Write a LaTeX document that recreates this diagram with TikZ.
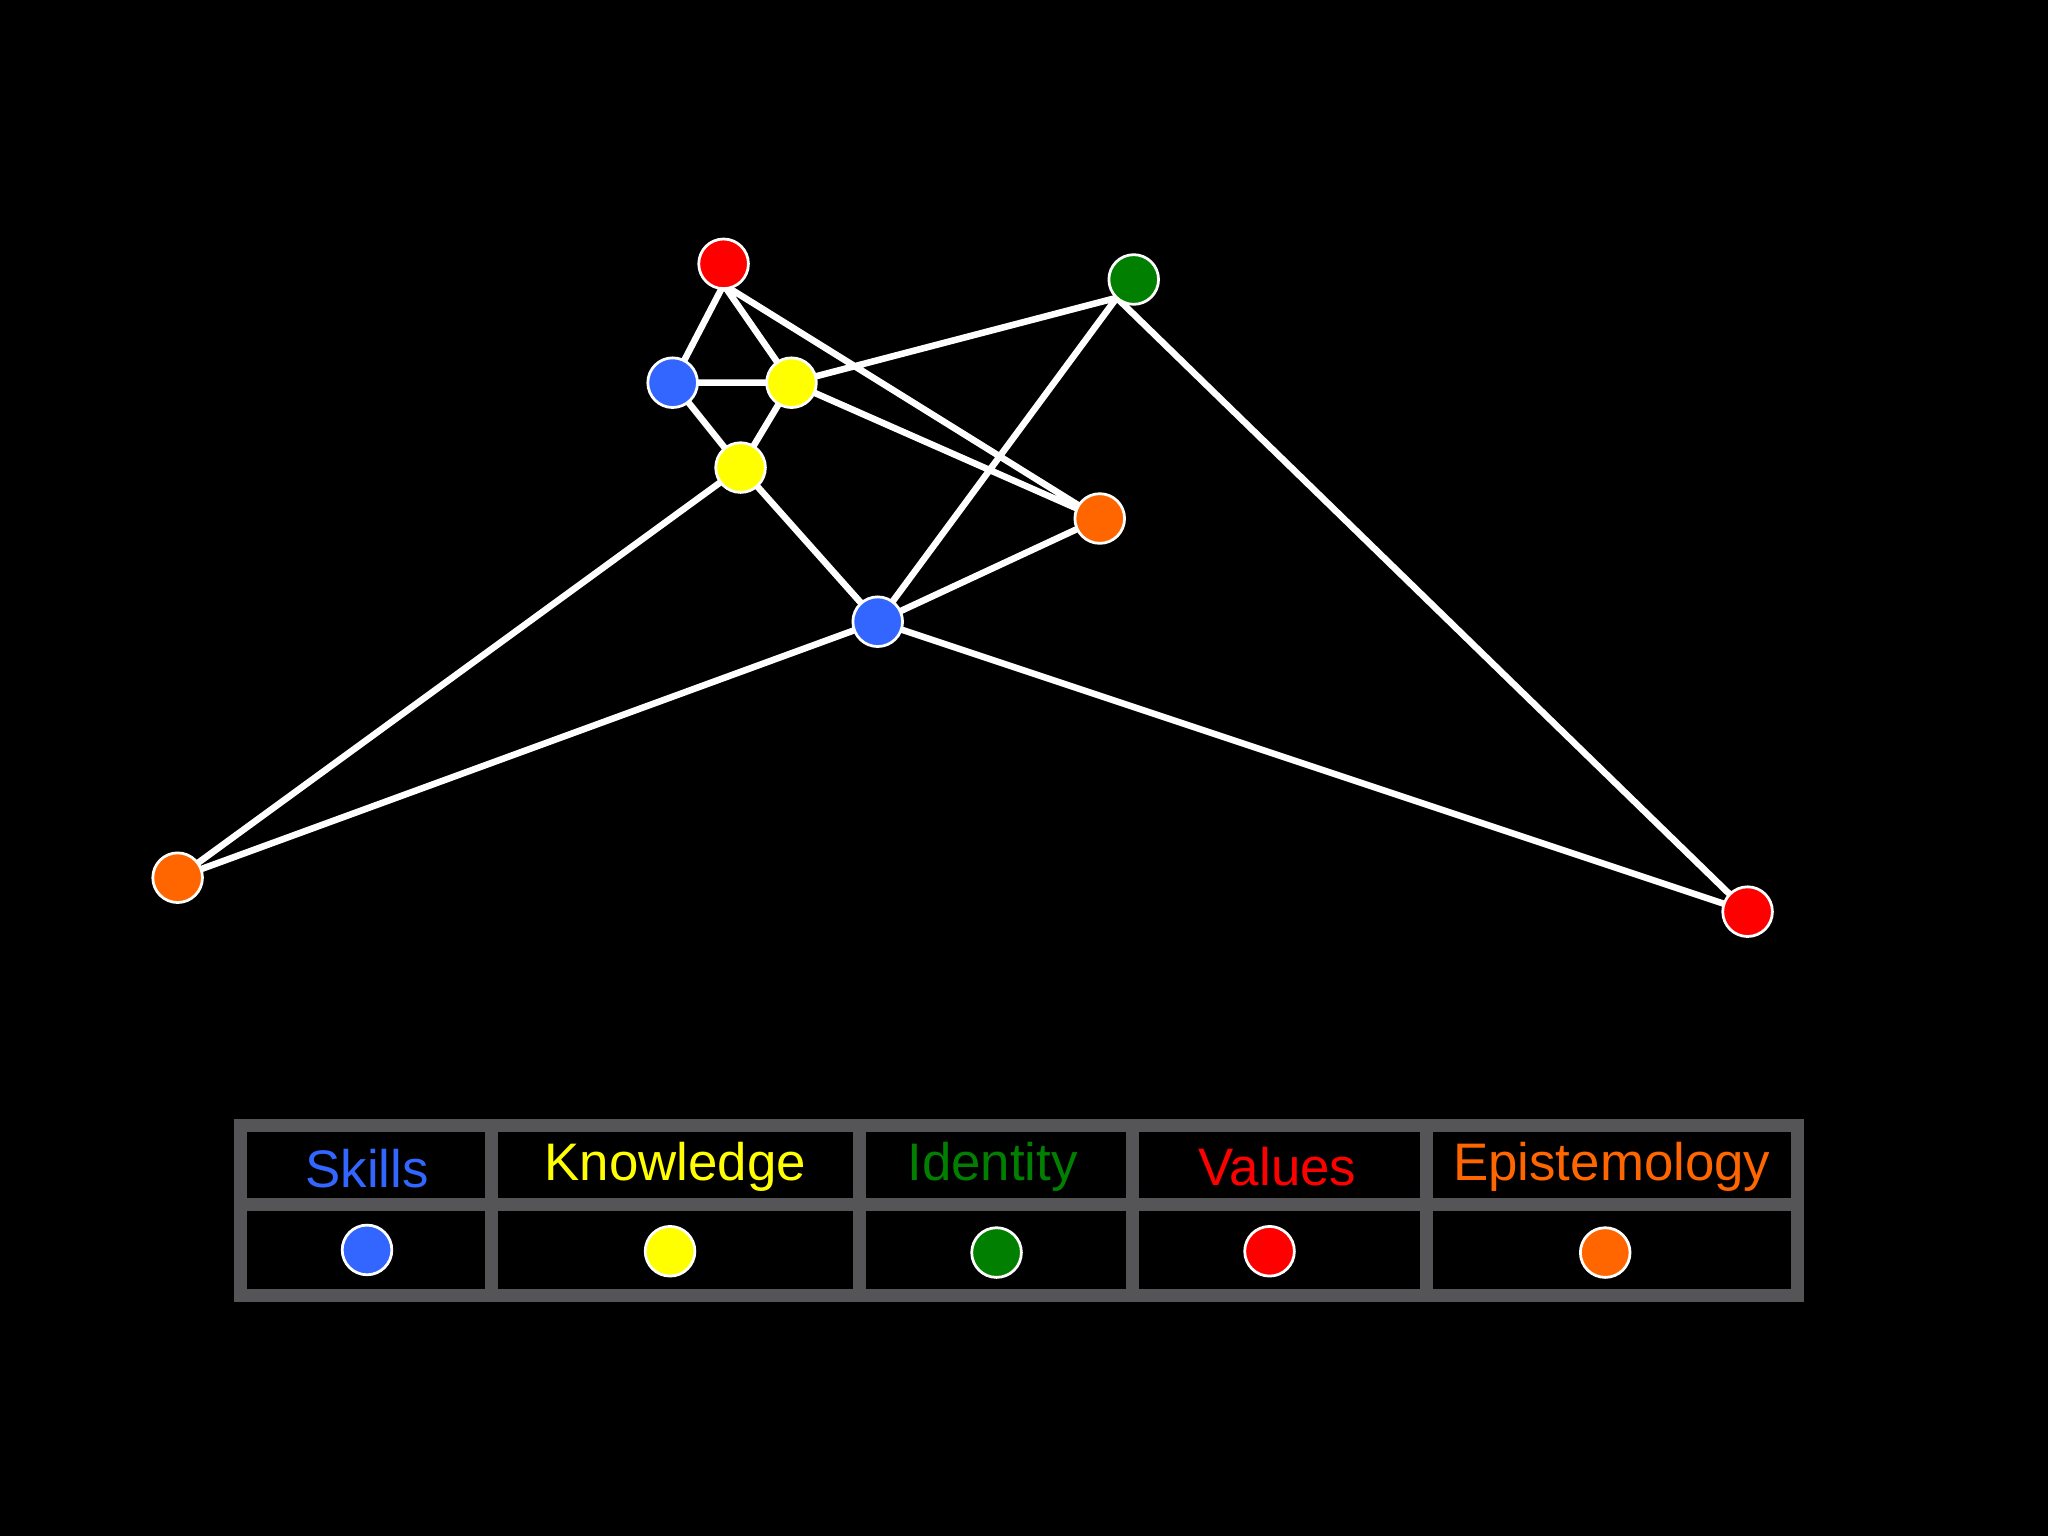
\documentclass[tikz,border=0pt]{standalone}
\usepackage{fontspec}
\setmainfont{Liberation Sans}
\definecolor{cb}{HTML}{3366FF}
\definecolor{cy}{HTML}{FFFF00}
\definecolor{cg}{HTML}{007F00}
\definecolor{cr}{HTML}{FF0000}
\definecolor{co}{HTML}{FF6600}
\definecolor{gr}{HTML}{555456}
\begin{document}
\begin{tikzpicture}[x=0.01cm,y=-0.01cm,
  dot/.style={circle,draw=white,line width=0.6pt,minimum size=0.38cm,inner sep=0},
  edge/.style={white,line width=0.05cm},
  lab/.style={font=\fontsize{11.5pt}{12pt}\selectfont}]
\fill[black] (0,0) rectangle (1568,1176);
\coordinate (r1j) at (554,218);
\coordinate (gj) at (855,228);
\coordinate (R1) at (554,202);
\coordinate (G) at (868,214);
\coordinate (B1) at (515,293);
\coordinate (Y1) at (606,293);
\coordinate (Y2) at (567,358);
\coordinate (O1) at (842,397);
\coordinate (B2) at (672,476);
\coordinate (O2) at (136,672);
\coordinate (R2) at (1338,698);
\draw[edge] (r1j)--(B1) (r1j)--(Y1) (r1j)--(O1)
 (B1)--(Y1) (B1)--(Y2) (Y1)--(Y2)
 (Y1)--(gj) (Y1)--(O1) (Y2)--(B2)
 (Y2)--(O2) (gj)--(B2) (gj)--(R2)
 (B2)--(O1) (B2)--(O2) (B2)--(R2);
\foreach \n/\c in {R1/cr,G/cg,B1/cb,Y1/cy,Y2/cy,O1/co,B2/cb,O2/co,R2/cr}
  \node[dot,fill=\c] (d\n) at (\n) {};
% legend table
\draw[gr,line width=0.1cm] (184,862) rectangle (1376,992);
\draw[gr,line width=0.1cm] (184,922)--(1376,922)
  (376,862)--(376,992) (658,862)--(658,992) (867,862)--(867,992) (1092,862)--(1092,992);
\node[lab,text=cb] (t1) at (281,895) {Skills};
\node[lab,text=cy] (t2) at (517,893) {Knowledge};
\node[lab,text=cg] (t3) at (760,893) {Identity};
\node[lab,text=cr] (t4) at (978,893) {Values};
\node[lab,text=co] (t5) at (1234,893) {Epistemology};
\node[dot,fill=cb] (l1) at (281,957) {};
\node[dot,fill=cy] (l2) at (513,958) {};
\node[dot,fill=cg] (l3) at (763,959) {};
\node[dot,fill=cr] (l4) at (972,958) {};
\node[dot,fill=co] (l5) at (1229,959) {};
\end{tikzpicture}
\end{document}
